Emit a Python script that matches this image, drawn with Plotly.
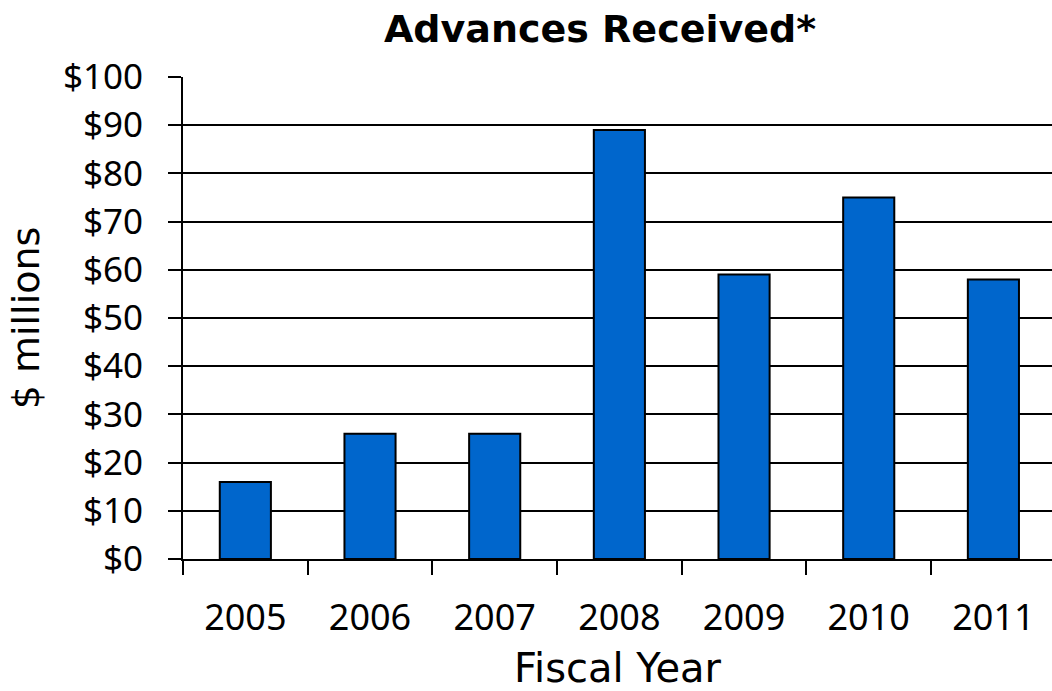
import plotly.graph_objects as go

# Advances received by fiscal year, in $ millions
years = ["2005", "2006", "2007", "2008", "2009", "2010", "2011"]
advances = [16, 26, 26, 89, 59, 75, 58]
y_ticks = [0, 10, 20, 30, 40, 50, 60, 70, 80, 90, 100]
y_tick_labels = ["$" + str(v) for v in y_ticks]

TICK_FONT = "Noto Sans"
TITLE_FONT = "DejaVu Sans"

fig = go.Figure(
    go.Bar(
        x=years,
        y=advances,
        width=0.41,
        marker=dict(color="#0066CC", line=dict(color="black", width=2)),
    )
)

fig.update_layout(
    width=1052,
    height=691,
    margin=dict(l=183, r=0, t=77, b=132),
    paper_bgcolor="white",
    plot_bgcolor="white",
    showlegend=False,
    font=dict(family=TICK_FONT, color="black", size=36),
    title=dict(
        text="<b>Advances Received*</b>",
        x=600 / 1052,
        xanchor="center",
        y=1 - 29 / 691,
        yanchor="middle",
        font=dict(family=TITLE_FONT, size=38, color="black"),
    ),
)

fig.update_xaxes(
    type="category",
    range=[-0.5, 6.47],
    tickson="boundaries",
    ticks="outside",
    ticklen=14,
    tickwidth=2,
    tickcolor="black",
    showline=True,
    linecolor="black",
    linewidth=2,
    showgrid=False,
    ticklabelstandoff=26,
    tickfont=dict(family=TICK_FONT, size=36),
    title=dict(text="Fiscal Year", font=dict(family=TITLE_FONT, size=40), standoff=16),
)

fig.update_yaxes(
    range=[0, 100],
    tickvals=y_ticks,
    ticktext=y_tick_labels,
    ticks="outside",
    ticklen=13,
    tickwidth=2,
    tickcolor="black",
    showline=True,
    linecolor="black",
    linewidth=2,
    showgrid=True,
    gridcolor="black",
    gridwidth=2,
    zeroline=False,
    ticklabelstandoff=18,
    tickfont=dict(family=TICK_FONT, size=35),
    title=dict(text="$ millions", font=dict(family=TITLE_FONT, size=38), standoff=12),
)

fig.write_html("out.html")
